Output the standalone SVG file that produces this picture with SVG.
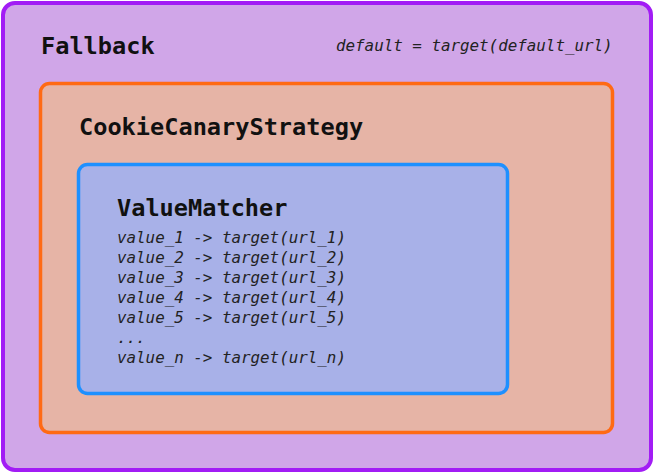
<svg xmlns="http://www.w3.org/2000/svg" width="654" height="473" viewBox="0 0 654 473">
<style>
.t{font-family:"DejaVu Sans Mono",monospace;font-weight:bold;font-size:23.6px;fill:#111}
.c{font-family:"DejaVu Sans Mono",monospace;font-style:italic;font-size:15.85px;fill:#222}
</style>
<g id="fallback">
<rect x="3" y="3" width="648" height="467" rx="12" fill="#d0a6e8" stroke="#a21cf5" stroke-width="4"/>
<text class="t" x="41" y="54">Fallback</text>
<text class="c" x="336" y="51">default = target(default_url)</text>
</g>
<g id="cookie">
<rect x="40.5" y="83.5" width="572" height="349" rx="9" fill="#e6b4a6" stroke="#ff6a14" stroke-width="3.5"/>
<text class="t" x="79" y="135">CookieCanaryStrategy</text>
</g>
<g id="valuematcher">
<rect x="78.5" y="164.5" width="429" height="229" rx="9" fill="#a8b1e8" stroke="#1e90ff" stroke-width="3.5"/>
<text class="t" x="117" y="216">ValueMatcher</text>
<text class="c" x="117" y="243">value_1 -&gt; target(url_1)</text>
<text class="c" x="117" y="263">value_2 -&gt; target(url_2)</text>
<text class="c" x="117" y="283">value_3 -&gt; target(url_3)</text>
<text class="c" x="117" y="303">value_4 -&gt; target(url_4)</text>
<text class="c" x="117" y="323">value_5 -&gt; target(url_5)</text>
<text class="c" x="117" y="343">...</text>
<text class="c" x="117" y="363">value_n -&gt; target(url_n)</text>
</g>
<g id="connectors"></g>
</svg>
